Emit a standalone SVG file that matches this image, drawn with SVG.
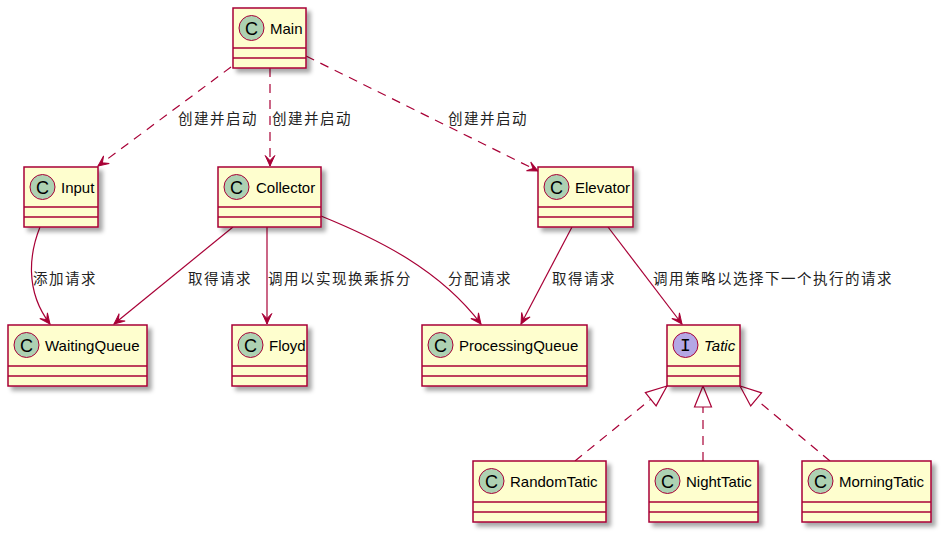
<svg xmlns="http://www.w3.org/2000/svg" width="946" height="538" viewBox="0 0 946 538">
<style>
.box{fill:#FEFECE;stroke:#A80036;stroke-width:1.5;filter:url(#sh)}
.sep{stroke:#A80036;stroke-width:1.5}
.circ{fill:#ADD1B2;stroke:#A80036;stroke-width:1}
.icirc{fill:#B4A7E5;stroke:#A80036;stroke-width:1}
.cl{font-family:"Liberation Sans",Arial,sans-serif;font-size:18px;fill:#000;text-anchor:middle}
.il{font-family:"Liberation Mono",monospace;font-size:18px;fill:#000;text-anchor:middle}
.nm{font-family:"Liberation Sans",Arial,sans-serif;font-size:15px;fill:#000}
.lb{font-family:"Liberation Sans","Noto Sans CJK SC",sans-serif;font-size:14.5px;letter-spacing:1.5px;fill:#222}
.ln{fill:none;stroke:#A80036;stroke-width:1.2}
.dash{stroke-dasharray:9,7}
</style>
<defs>
<filter id="sh" x="-20%" y="-20%" width="150%" height="150%">
<feDropShadow dx="4" dy="4" stdDeviation="2" flood-color="#000" flood-opacity="0.35"/>
</filter>
<marker id="arr" markerUnits="userSpaceOnUse" viewBox="-12 -6 13 12" markerWidth="13" markerHeight="12" refX="0" refY="0" orient="auto">
<path d="M0,0 L-10.5,-4.8 L-5.5,0 L-10.5,4.8 Z" fill="#A80036" stroke="#A80036" stroke-width="1"/>
</marker>
<marker id="tri" markerUnits="userSpaceOnUse" viewBox="-23 -10 24 20" markerWidth="24" markerHeight="20" refX="0" refY="0" orient="auto">
<path d="M0,0 L-21,-8.5 L-21,8.5 Z" fill="#FFFFFF" stroke="#A80036" stroke-width="1.2"/>
</marker>
</defs>
<rect width="946" height="538" fill="#FFFFFF"/>

<g id="connectors">
<path class="ln dash" d="M231,67 L98,166" marker-end="url(#arr)"/>
<path class="ln dash" d="M270,68 L270,166" marker-end="url(#arr)"/>
<path class="ln dash" d="M306,56 L538,171" marker-end="url(#arr)"/>
<path class="ln" d="M40,227 C30,252 24,290 50,324" marker-end="url(#arr)"/>
<path class="ln" d="M233,227 L114,324" marker-end="url(#arr)"/>
<path class="ln" d="M267,227 L267,324" marker-end="url(#arr)"/>
<path class="ln" d="M321,216 C380,240 440,270 481,324" marker-end="url(#arr)"/>
<path class="ln" d="M572,227 L521,324" marker-end="url(#arr)"/>
<path class="ln" d="M608,227 L682,324" marker-end="url(#arr)"/>
<path class="ln dash" d="M575,461 L667,386" marker-end="url(#tri)"/>
<path class="ln dash" d="M703,461 L703,386" marker-end="url(#tri)"/>
<path class="ln dash" d="M830,461 L740,386" marker-end="url(#tri)"/>
<text class="lb" x="178" y="124">创建并启动</text>
<text class="lb" x="272" y="124">创建并启动</text>
<text class="lb" x="448" y="124">创建并启动</text>
<text class="lb" x="33" y="284">添加请求</text>
<text class="lb" x="188" y="284">取得请求</text>
<text class="lb" x="268" y="284">调用以实现换乘拆分</text>
<text class="lb" x="448" y="284">分配请求</text>
<text class="lb" x="552" y="284">取得请求</text>
<text class="lb" x="653" y="284">调用策略以选择下一个执行的请求</text>
</g>

<g id="Main">
<rect class="box" x="233" y="8" width="73" height="60"/>
<line class="sep" x1="233" y1="48" x2="306" y2="48"/><line class="sep" x1="233" y1="58" x2="306" y2="58"/>
<circle class="circ" cx="251.5" cy="28" r="12.5"/><text class="cl" x="251.5" y="34.5">C</text>
<text class="nm" x="270" y="34">Main</text>
</g>

<g id="Input">
<rect class="box" x="24" y="167" width="74" height="60"/>
<line class="sep" x1="24" y1="207" x2="98" y2="207"/><line class="sep" x1="24" y1="217" x2="98" y2="217"/>
<circle class="circ" cx="42.5" cy="187" r="12.5"/><text class="cl" x="42.5" y="193.5">C</text>
<text class="nm" x="61" y="193">Input</text>
</g>

<g id="Collector">
<rect class="box" x="218" y="167" width="103" height="60"/>
<line class="sep" x1="218" y1="207" x2="321" y2="207"/><line class="sep" x1="218" y1="217" x2="321" y2="217"/>
<circle class="circ" cx="236.5" cy="187" r="12.5"/><text class="cl" x="236.5" y="193.5">C</text>
<text class="nm" x="256" y="193">Collector</text>
</g>

<g id="Elevator">
<rect class="box" x="538" y="167" width="95" height="60"/>
<line class="sep" x1="538" y1="207" x2="633" y2="207"/><line class="sep" x1="538" y1="217" x2="633" y2="217"/>
<circle class="circ" cx="556.5" cy="187" r="12.5"/><text class="cl" x="556.5" y="193.5">C</text>
<text class="nm" x="575" y="193">Elevator</text>
</g>

<g id="WaitingQueue">
<rect class="box" x="8" y="325" width="139" height="61"/>
<line class="sep" x1="8" y1="366" x2="147" y2="366"/><line class="sep" x1="8" y1="376" x2="147" y2="376"/>
<circle class="circ" cx="26.5" cy="345" r="12.5"/><text class="cl" x="26.5" y="351.5">C</text>
<text class="nm" x="45" y="351">WaitingQueue</text>
</g>

<g id="Floyd">
<rect class="box" x="232" y="325" width="75" height="61"/>
<line class="sep" x1="232" y1="366" x2="307" y2="366"/><line class="sep" x1="232" y1="376" x2="307" y2="376"/>
<circle class="circ" cx="250.5" cy="345" r="12.5"/><text class="cl" x="250.5" y="351.5">C</text>
<text class="nm" x="269" y="351">Floyd</text>
</g>

<g id="ProcessingQueue">
<rect class="box" x="422" y="325" width="165" height="61"/>
<line class="sep" x1="422" y1="366" x2="587" y2="366"/><line class="sep" x1="422" y1="376" x2="587" y2="376"/>
<circle class="circ" cx="440.5" cy="345" r="12.5"/><text class="cl" x="440.5" y="351.5">C</text>
<text class="nm" x="459" y="351">ProcessingQueue</text>
</g>

<g id="Tatic">
<rect class="box" x="667" y="325" width="73" height="61"/>
<line class="sep" x1="667" y1="366" x2="740" y2="366"/><line class="sep" x1="667" y1="376" x2="740" y2="376"/>
<circle class="icirc" cx="685.5" cy="345" r="12.5"/><text class="il" x="685.5" y="351">I</text>
<text class="nm" x="704" y="351" font-style="italic">Tatic</text>
</g>

<g id="RandomTatic">
<rect class="box" x="473" y="461" width="133" height="61"/>
<line class="sep" x1="473" y1="502" x2="606" y2="502"/><line class="sep" x1="473" y1="512" x2="606" y2="512"/>
<circle class="circ" cx="491.5" cy="481" r="12.5"/><text class="cl" x="491.5" y="487.5">C</text>
<text class="nm" x="510" y="487">RandomTatic</text>
</g>

<g id="NightTatic">
<rect class="box" x="649" y="461" width="109" height="61"/>
<line class="sep" x1="649" y1="502" x2="758" y2="502"/><line class="sep" x1="649" y1="512" x2="758" y2="512"/>
<circle class="circ" cx="667.5" cy="481" r="12.5"/><text class="cl" x="667.5" y="487.5">C</text>
<text class="nm" x="686" y="487">NightTatic</text>
</g>

<g id="MorningTatic">
<rect class="box" x="802" y="461" width="129" height="61"/>
<line class="sep" x1="802" y1="502" x2="931" y2="502"/><line class="sep" x1="802" y1="512" x2="931" y2="512"/>
<circle class="circ" cx="820.5" cy="481" r="12.5"/><text class="cl" x="820.5" y="487.5">C</text>
<text class="nm" x="839" y="487">MorningTatic</text>
</g>
</svg>
